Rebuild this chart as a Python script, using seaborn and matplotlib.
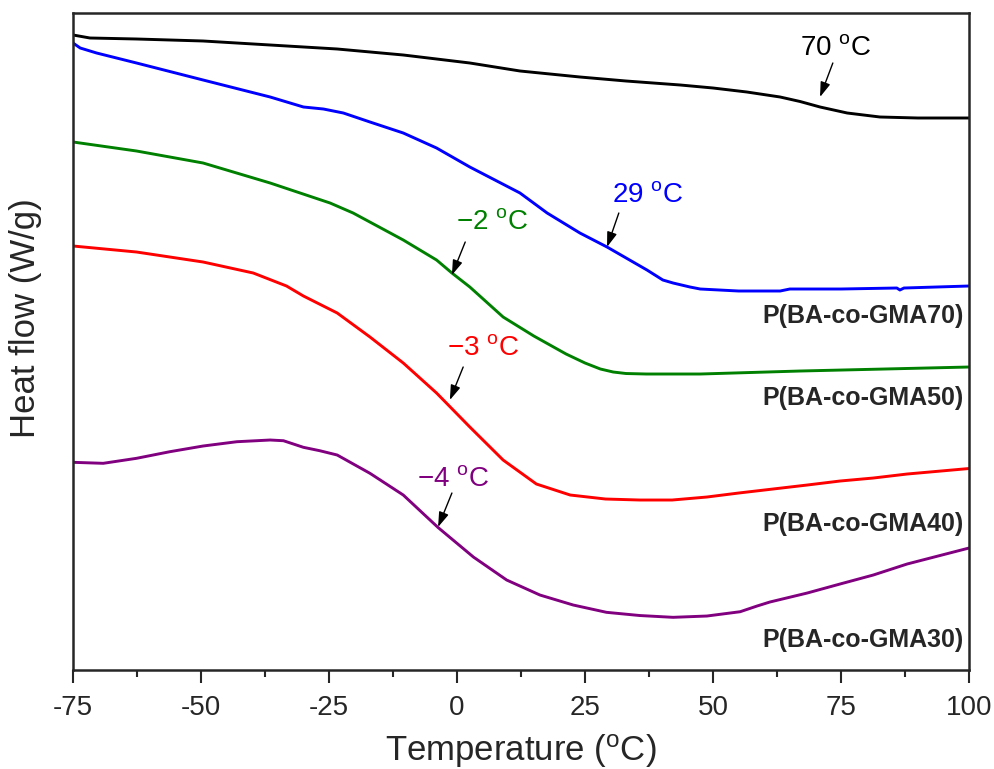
import numpy as np
import pandas as pd
import seaborn as sns
from matplotlib import pyplot as plt

# temperature (C) and heat flow (arbitrary, shifted)
t_gma0 = [-75, -71.7, -62.6, -49.6, -36.5, -23.4, -10.5, 2.5, 12.3, 24.0, 33.0, 43.6, 50.0, 56.6, 63.1, 67.0,
          70.9, 76.2, 82.6, 90, 100]
hf_gma0 = [6.35, 6.32, 6.31, 6.29, 6.25, 6.21, 6.15, 6.07, 5.99, 5.93, 5.89, 5.85, 5.82, 5.78, 5.73, 5.685,
           5.63, 5.57, 5.53, 5.52, 5.52]

t_gma70 = [-75, -73.6, -70.4, -62.6, -49.6, -36.5, -30.0, -26.1, -22.2, -17.0, -10.5, -4.0, 2.5, 12.3, 17.6,
           24.0, 29.3, 37.1, 40.2, 42.2, 45.5, 47.5, 55.0, 63.1, 65.0, 75.0, 85.9, 86.5, 87.3, 100]
hf_gma70 = [6.27, 6.22, 6.17, 6.07, 5.90, 5.73, 5.63, 5.61, 5.57, 5.48, 5.37, 5.22, 5.03, 4.77, 4.57,
            4.37, 4.23, 4.00, 3.90, 3.87, 3.83, 3.81, 3.79, 3.79, 3.81, 3.81, 3.82, 3.80, 3.82, 3.84]

t_gma50 = [-75, -62.6, -49.6, -36.5, -24.8, -20.3, -10.5, -4.0, -1.0, 2.5, 9.0, 15.0, 21.3, 25.0, 28.0, 30.5,
           33.0, 37.0, 47.5, 67.0, 100]
hf_gma50 = [5.28, 5.19, 5.07, 4.87, 4.67, 4.57, 4.30, 4.10, 3.97, 3.83, 3.53, 3.34, 3.16, 3.07, 3.01, 2.98,
            2.965, 2.96, 2.96, 2.99, 3.03]

t_gma40 = [-75, -62.6, -49.6, -39.8, -33.3, -30.0, -23.4, -17.0, -10.5, -4.0, 2.5, 9.0, 15.5, 22.1, 29.0,
           35.7, 42.0, 48.8, 55.0, 61.7, 68.4, 74.8, 81.3, 87.9, 100]
hf_gma40 = [4.24, 4.18, 4.08, 3.97, 3.84, 3.74, 3.57, 3.33, 3.07, 2.77, 2.43, 2.10, 1.86, 1.75, 1.71,
            1.70, 1.70, 1.73, 1.77, 1.81, 1.85, 1.89, 1.92, 1.96, 2.015]

t_gma30 = [-75, -69.1, -62.6, -56.1, -49.6, -43.0, -36.5, -33.9, -30.0, -26.8, -23.4, -17.0, -10.5, -3.7, 3.2,
           9.7, 16.2, 22.7, 29.2, 35.7, 42.2, 48.8, 55.3, 58.6, 61.1, 68.4, 74.8, 81.3, 87.9, 100]
hf_gma30 = [2.077, 2.067, 2.117, 2.183, 2.24, 2.283, 2.30, 2.293, 2.227, 2.193, 2.15, 1.967, 1.75, 1.425, 1.13,
            0.90, 0.75, 0.65, 0.577, 0.545, 0.527, 0.54, 0.583, 0.64, 0.68, 0.77, 0.86, 0.95, 1.06, 1.22]

series_names = ['GMA0', 'P(BA-co-GMA70)', 'P(BA-co-GMA50)', 'P(BA-co-GMA40)', 'P(BA-co-GMA30)']
series_colors = ['black', '#0000ff', '#008000', '#ff0000', '#800080']
tg_labels = ['70 $^\\mathregular{o}$C', '29 $^\\mathregular{o}$C', '\u22122 $^\\mathregular{o}$C',
             '\u22123 $^\\mathregular{o}$C', '\u22124 $^\\mathregular{o}$C']
x_ticks = [-75, -50, -25, 0, 25, 50, 75, 100]

curves = [(t_gma0, hf_gma0), (t_gma70, hf_gma70), (t_gma50, hf_gma50), (t_gma40, hf_gma40), (t_gma30, hf_gma30)]
df = pd.concat([pd.DataFrame({'T': t, 'hf': h, 'sample': name})
                for (t, h), name in zip(curves, series_names)], ignore_index=True)

sns.set_style('ticks')
plt.rcParams['font.family'] = ['Liberation Sans', 'DejaVu Sans']
plt.rcParams['mathtext.default'] = 'regular'
plt.rcParams['axes.unicode_minus'] = False

fig = plt.figure(figsize=(9.95, 7.69), dpi=100)
ax = fig.add_axes([0.0734, 0.1287, 0.9005, 0.8544])

sns.lineplot(data=df, x='T', y='hf', hue='sample', palette=dict(zip(series_names, series_colors)),
             sort=False, estimator=None, linewidth=2.1, legend=False, ax=ax)
for ln in ax.lines:
    ln.set_solid_joinstyle('round')
    ln.set_solid_capstyle('round')

ax.set_xlim(-75, 100)
ax.set_ylim(0, 6.57)
ax.set_xticks(x_ticks)
ax.set_xticklabels([str(v) for v in x_ticks], fontsize=20)
ax.set_xticks([v + 12.5 for v in x_ticks[:-1]], minor=True)
ax.set_yticks([])
ax.tick_params(axis='x', which='major', direction='out', length=9, width=1.5, pad=9)
ax.tick_params(axis='x', which='minor', direction='out', length=5, width=1.5)
for sp in ax.spines.values():
    sp.set_linewidth(1.8)

ax.set_xlabel('Temperature ($^\\mathregular{o}$C)', fontsize=25)
ax.set_ylabel('Heat flow (W/g)', fontsize=25)
ax.xaxis.set_label_coords(0.5, -0.095)
ax.yaxis.set_label_coords(-0.035, 0.536)

# sample names on the right
for name, yy in zip(series_names[1:], [3.54, 2.72, 1.46, 0.30]):
    ax.text(99.0, yy, name, ha='right', va='center', fontsize=18, fontweight='bold')

# Tg labels and arrows
text_pos = [(74.0, 6.22), (37.3, 4.75), (6.8, 4.48), (5.1, 3.22), (-0.8, 1.91)]
arrow_tail = [(73.4, 6.07), (31.6, 4.57), (1.6, 4.28), (1.2, 3.03), (-1.0, 1.77)]
arrow_tip = [(70.9, 5.73), (29.3, 4.23), (-1.0, 3.95), (-1.4, 2.70), (-3.7, 1.43)]
for lab, col, tp, tail, tip in zip(tg_labels, series_colors, text_pos, arrow_tail, arrow_tip):
    ax.text(tp[0], tp[1], lab, color=col, ha='center', va='center', fontsize=20)
    ax.annotate('', xy=tip, xytext=tail,
                arrowprops=dict(arrowstyle='-|>,head_length=0.6,head_width=0.2', mutation_scale=15,
                                color='black', lw=1, shrinkA=0, shrinkB=0))

fig.savefig('out.png', dpi=100)
